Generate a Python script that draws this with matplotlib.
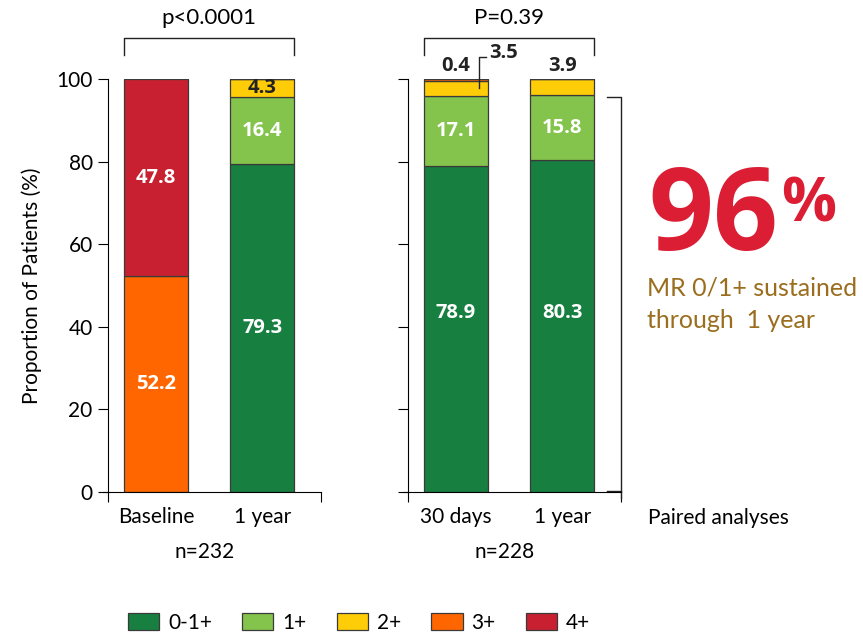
import matplotlib.pyplot as plt
from matplotlib.patches import Patch

# MR grade distribution (% of patients)
grades = ["0-1+", "1+", "2+", "3+", "4+"]
colors = ["#178040", "#84C44C", "#FFCC08", "#FF6600", "#C82030"]

left_cats = ["Baseline", "1 year"]
left_vals = [
    [0.0, 79.3],   # 0-1+
    [0.0, 16.4],   # 1+
    [0.0, 4.3],    # 2+
    [52.2, 0.0],   # 3+
    [47.8, 0.0],   # 4+
]
left_n = "n=232"
left_p = "p<0.0001"

right_cats = ["30 days", "1 year"]
right_vals = [
    [78.9, 80.3],
    [17.1, 15.8],
    [3.5, 3.9],
    [0.4, 0.0],
    [0.0, 0.0],
]
right_n = "n=228"
right_p = "P=0.39"

sustained = 96

plt.rcParams['font.family'] = ['Lato', 'DejaVu Sans']
BOLD_FONT = ['Open Sans', 'DejaVu Sans']

fig = plt.figure(figsize=(8.63, 6.35), dpi=100)
ax1 = fig.add_axes([108 / 863, 143 / 635, 213 / 863, 413 / 635])
ax2 = fig.add_axes([408 / 863, 143 / 635, 213 / 863, 413 / 635])

x = [0, 1]
width = 0.6


def draw_panel(ax, cats, vals, n_text, p_text, show_yticklabels):
    bottoms = [0.0, 0.0]
    segs = []
    for gi, series in enumerate(vals):
        ax.bar(x, series, width, bottom=bottoms, color=colors[gi],
               edgecolor="#3a3a3a", linewidth=0.9, zorder=2)
        for xi, (v, b) in enumerate(zip(series, bottoms)):
            if v > 0:
                segs.append((xi, gi, v, b))
        bottoms = [b + v for b, v in zip(bottoms, series)]

    ax.set_xlim(-0.45, 1.55)
    ax.set_ylim(0, 100)
    for s in ["top", "right"]:
        ax.spines[s].set_visible(False)
    ax.spines["left"].set_bounds(0, 100)
    ax.spines["bottom"].set_bounds(-0.5, 1.55)
    ax.set_yticks([0, 20, 40, 60, 80, 100])
    ax.tick_params(axis="y", direction="out", length=7, width=0.8,
                   labelsize=15, pad=4)
    if not show_yticklabels:
        ax.set_yticklabels([])
    ax.set_xticks(x)
    ax.set_xticklabels(cats, fontsize=15)
    ax.tick_params(axis="x", length=0, pad=11)
    ax.set_xticks([-0.45, 1.55], minor=True)
    ax.tick_params(axis="x", which="minor", length=7, width=0.8,
                   direction="out")

    # sample size under the categories
    ax.text(0.46, -0.145, n_text, transform=ax.get_xaxis_transform(),
            ha="center", va="center", fontsize=15)

    # bracket with p value above the bars
    ax.plot([-0.3, -0.3, 1.3, 1.3], [105.8, 110, 110, 105.8],
            color="#222222", lw=1.0, clip_on=False)
    ax.text(0.5, 114.8, p_text, ha="center", va="center", fontsize=16)
    return segs


segs1 = draw_panel(ax1, left_cats, left_vals, left_n, left_p, True)
segs2 = draw_panel(ax2, right_cats, right_vals, right_n, right_p, False)

# value labels for the left panel
for xi, gi, v, b in segs1:
    ax1.text(xi, b + v / 2, f"{v:.1f}", ha="center", va="center",
             color="white" if v >= 10 else "#222222", fontsize=14.5,
             fontweight="bold", family=BOLD_FONT)

# value labels for the right panel
for xi, gi, v, b in segs2:
    if v >= 10:
        yy = b + v / 2
        if gi == 0:
            yy = 43.3
        ax2.text(xi, yy, f"{v:.1f}", ha="center", va="center",
                 color="white", fontsize=14.5, fontweight="bold",
                 family=BOLD_FONT)

small = {(xi, gi): (v, b) for xi, gi, v, b in segs2 if v < 10}
# 3+ share at 30 days sits on top of the bar
v, b = small[(0, 3)]
ax2.text(0, 103.2, f"{v:.1f}", ha="center", va="center", color="#222222",
         fontsize=14.5, fontweight="bold", family=BOLD_FONT)
# 2+ share at 30 days, with a leader line into the thin segment
v, b = small[(0, 2)]
ax2.plot([0.22, 0.22, 0.28], [b + v / 2, 105.3, 105.3], color="#222222",
         lw=1.0, clip_on=False)
ax2.text(0.31, 106.2, f"{v:.1f}", ha="left", va="center", color="#222222",
         fontsize=14.5, fontweight="bold", family=BOLD_FONT)
# 2+ share at 1 year
v, b = small[(1, 2)]
ax2.text(1, 103.2, f"{v:.1f}", ha="center", va="center", color="#222222",
         fontsize=14.5, fontweight="bold", family=BOLD_FONT)

# bracket on the right marking the sustained 0/1+ share
ax2.plot([1.42, 1.55, 1.55], [sustained - 0.4, sustained - 0.4, -1.5],
         color="#222222", lw=1.0, clip_on=False)
ax2.plot([1.42, 1.55], [0.2, 0.2], color="#222222", lw=1.0, clip_on=False)

ax1.set_ylabel("Proportion of Patients (%)", fontsize=15, labelpad=10)

ax2.text(1.80, -0.063, "Paired analyses", transform=ax2.get_xaxis_transform(),
         ha="left", va="center", fontsize=15)

fig.text(648 / 863, 1 - 250 / 635, f"{sustained}", ha="left",
         va="baseline", fontsize=82, fontweight="bold", color="#DC1E35",
         family=BOLD_FONT)
fig.text(781 / 863, 1 - 221 / 635, "%", ha="left", va="baseline",
         fontsize=44, fontweight="bold", color="#DC1E35", family=BOLD_FONT)
fig.text(647 / 863, 1 - 288 / 635, "MR 0/1+ sustained", ha="left",
         va="center", fontsize=18, color="#9A6E1E")
fig.text(647 / 863, 1 - 320 / 635, "through  1 year", ha="left",
         va="center", fontsize=18, color="#9A6E1E")

handles = [Patch(facecolor=c, edgecolor="#3a3a3a", linewidth=0.9, label=g)
           for g, c in zip(grades, colors)]
fig.legend(handles=handles, loc="center", bbox_to_anchor=(359 / 863, 12 / 635),
           ncol=5, frameon=False, fontsize=15, handlelength=1.5,
           handleheight=0.87, columnspacing=1.45, handletextpad=0.43)

fig.savefig("out.png", dpi=100)
